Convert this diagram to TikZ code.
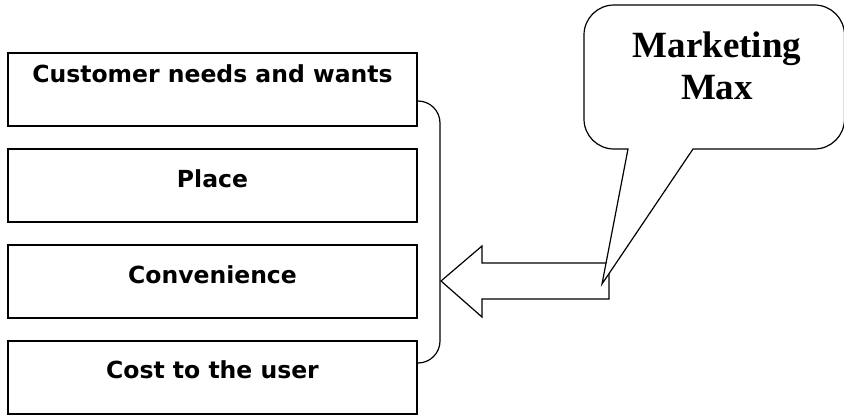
\documentclass[tikz,border=0pt]{standalone}
\usepackage{fontspec}
\newfontfamily\boxfont{DejaVu Sans}
\newfontfamily\callfont{Liberation Serif}
\begin{document}
\begin{tikzpicture}[x=1pt,y=-1pt,line width=1.2pt,
  itembox/.style={draw,rectangle,minimum width=409pt,minimum height=73pt,inner sep=0pt},
  itemtext/.style={anchor=base,font=\boxfont\bfseries\fontsize{23.5}{28}\selectfont,inner sep=0pt},
  calltext/.style={anchor=base,font=\callfont\bfseries\fontsize{37}{42}\selectfont,inner sep=0pt,align=center}]
\useasboundingbox (0,0) rectangle (844,415);
% boxes
\node[itembox] (b1) at (212.5,89.5) {};
\node[itembox] (b2) at (212.5,185.5) {};
\node[itembox] (b3) at (212.5,281.5) {};
\node[itembox] (b4) at (212.5,377.5) {};
\node[itemtext] (t1) at (212.5,82) {Customer needs and wants};
\node[itemtext] (t2) at (212.5,187) {Place};
\node[itemtext] (t3) at (212.5,283) {Convenience};
\node[itemtext] (t4) at (212.5,378) {Cost to the user};
% bracket
\draw[rounded corners=22pt] ([yshift=-11.5pt]b1.east) -| (440,250) |- ([yshift=14.5pt]b4.east);
% block arrow
\coordinate (tip) at (441,281);
\draw[fill=white,line join=miter] (tip) -- (482,246) -- (482,263) -- (609,263) -- (609,299) -- (482,299) -- (482,317) -- cycle;
% callout
\draw[fill=white] (628,149) -- (602,284) -- (693,149)
  [rounded corners=30pt] -- (844.5,149) -- (844.5,5) -- (584,5) -- (584,149) [sharp corners] -- (628,149) -- cycle;
\node[calltext] (c1) at (717,57) {Marketing};
\node[calltext] (c2) at (717,99) {Max};
\end{tikzpicture}
\end{document}
